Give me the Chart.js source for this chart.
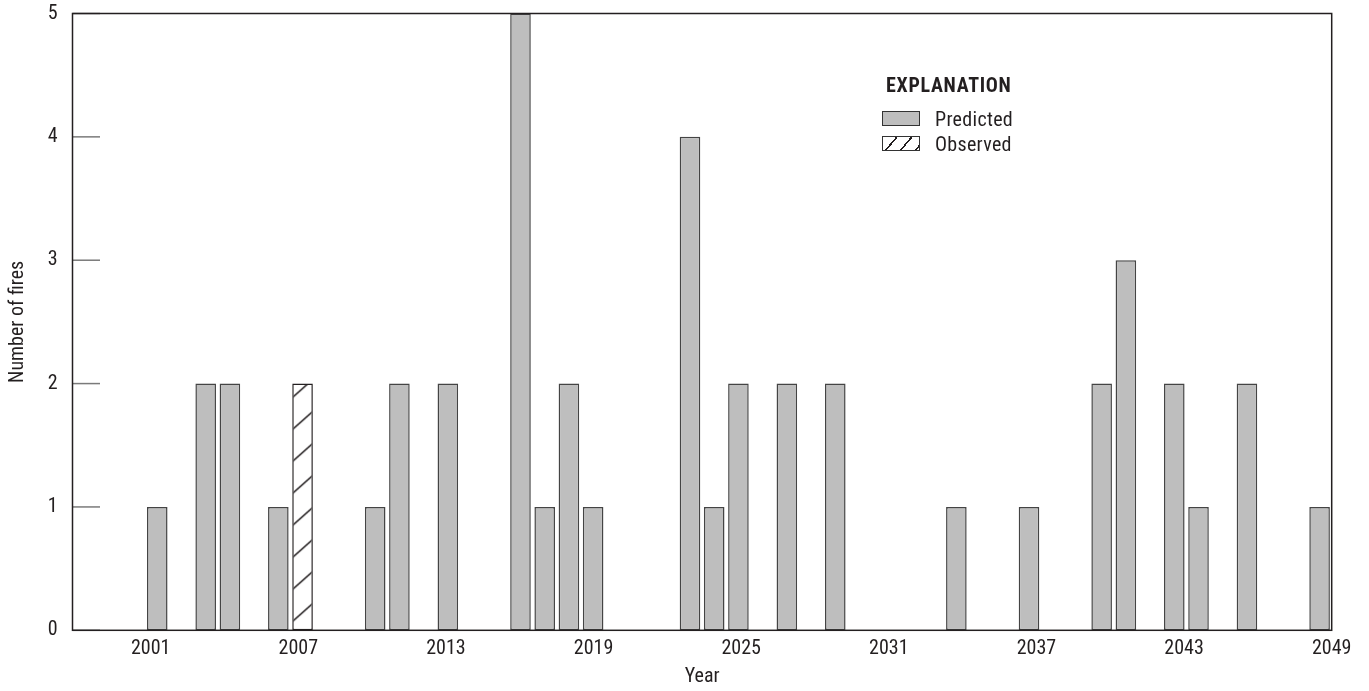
<!DOCTYPE html>
<html>
<head>
<meta charset="utf-8">
<script src="https://cdn.jsdelivr.net/npm/chart.js@4.4.1/dist/chart.umd.min.js"></script>
<style>
html,body{margin:0;padding:0;background:#fff;}
#wrap{position:relative;width:1369px;height:691px;overflow:hidden;}
canvas{display:block;}
.lg{position:absolute;font-size:20px;line-height:20px;color:#231f20;white-space:nowrap;letter-spacing:0.3px;}
.lg.b{font-weight:bold;letter-spacing:0.7px;}
.sw{position:absolute;width:36px;height:13px;border:1.5px solid #333;}
.sw.pred{background:#bebebe;}
.sw.obs{background:#fff repeating-linear-gradient(130deg, transparent 0 9.8px, #231f20 9.8px 11.4px);}
</style>
</head>
<body>
<div id="wrap">
<canvas id="c" width="1369" height="691"></canvas>
<div class="lg b" style="left:886px;top:75px;">EXPLANATION</div>
<div class="sw pred" style="left:882px;top:111px;"></div>
<div class="lg" style="left:935px;top:109px;">Predicted</div>
<div class="sw obs" style="left:882px;top:136px;"></div>
<div class="lg" style="left:935px;top:134px;">Observed</div>
</div>
<script>
// ---- data ----
const predictedYears = [2001,2003,2004,2006,2010,2011,2013,2016,2017,2018,2019,2023,2024,2025,2027,2029,2034,2037,2040,2041,2043,2044,2046,2049];
const predictedFires = [1,2,2,1,1,2,2,5,1,2,1,4,1,2,2,2,1,1,2,3,2,1,2,1];
const observedYears = [2007];
const observedFires = [2];
const tickYears = [2001,2007,2013,2019,2025,2031,2037,2043,2049];
const yTicks = [0,1,2,3,4,5];

// ---- pick the narrowest suitable installed font ----
const probe = document.createElement('canvas').getContext('2d');
const SAMPLE = '2001 Predicted EXPLANATION Number of fires';
function w(font){ probe.font = font; return probe.measureText(SAMPLE).width; }
function installed(fam){ return Math.abs(w('20px monospace') - w('20px ' + fam + ', monospace')) > 0.5 && Math.abs(w('20px serif') - w('20px ' + fam + ', serif')) > 0.5; }
let pick = { family: '"DejaVu Sans Condensed", "DejaVu Sans", sans-serif', stretch: 'normal' };
const cands = [
  ['"Liberation Sans Narrow"', 'normal'],
  ['"Arial Narrow"', 'normal'],
  ['"Roboto Condensed"', 'normal'],
  ['"Noto Sans"', 'condensed'],
  ['"Open Sans"', 'condensed'],
  ['Roboto', 'condensed']
];
for (const [fam, st] of cands) {
  if (!installed(fam)) continue;
  if (st === 'condensed') {
    const n = w('normal normal 20px ' + fam), c = w('normal condensed 20px ' + fam);
    if (!(c < n * 0.9)) continue;
  }
  pick = { family: fam + ', "DejaVu Sans Condensed", sans-serif', stretch: st };
  break;
}
document.querySelectorAll('.lg').forEach(el => { el.style.fontFamily = pick.family; el.style.fontStretch = pick.stretch; });

Chart.defaults.font.family = pick.family;
Chart.defaults.font.size = 20;
Chart.defaults.font.weight = pick.stretch === 'condensed' ? 'normal condensed' : 'normal';
Chart.defaults.color = '#231f20';

const canvas = document.getElementById('c');
const ctx = canvas.getContext('2d');

function makeHatch(){
  const c = document.createElement('canvas');
  c.width = 36; c.height = 32;
  const g = c.getContext('2d');
  g.fillStyle = '#fff'; g.fillRect(0,0,36,32);
  g.strokeStyle = '#231f20'; g.lineWidth = 1.5;
  g.beginPath();
  for (const k of [-1,0,1]) { g.moveTo(0, 32 + 32*k); g.lineTo(36, 32*k); }
  g.stroke();
  const p = ctx.createPattern(c, 'repeat');
  if (p.setTransform) p.setTransform(new DOMMatrix().translate(0, 17.4));
  return p;
}

const framePlugin = {
  id: 'frame',
  afterDatasetsDraw(chart){
    const {ctx, chartArea:a, scales:{y}} = chart;
    ctx.save();
    ctx.strokeStyle = '#7a7a7a'; ctx.lineWidth = 1.5;
    y.ticks.forEach(t => {
      const py = y.getPixelForValue(t.value);
      ctx.beginPath(); ctx.moveTo(a.left, py); ctx.lineTo(a.left + 27.5, py); ctx.stroke();
    });
    ctx.strokeStyle = '#231f20'; ctx.lineWidth = 1.5;
    ctx.strokeRect(a.left, a.top, a.right - a.left, a.bottom - a.top);
    ctx.restore();
  }
};

new Chart(ctx, {
  type: 'bar',
  data: {
    datasets: [
      {
        label: 'Predicted',
        data: predictedYears.map((x,i) => ({x, y: predictedFires[i]})),
        backgroundColor: '#bebebe',
        borderColor: '#444444',
        borderWidth: 1.5,
        borderSkipped: false,
        grouped: false,
        barPercentage: 0.85,
        categoryPercentage: 1,
        xAxisID: 'x', yAxisID: 'y'
      },
      {
        label: 'Observed',
        data: observedYears.map((x,i) => ({x, y: observedFires[i]})),
        backgroundColor: makeHatch(),
        borderColor: '#231f20',
        borderWidth: 1.5,
        borderSkipped: false,
        grouped: false,
        barPercentage: 0.85,
        categoryPercentage: 1,
        xAxisID: 'x', yAxisID: 'y'
      }
    ]
  },
  options: {
    responsive: false,
    animation: false,
    devicePixelRatio: 1,
    layout: { padding: { left: 0, right: 37.3, top: 13.5, bottom: 0 } },
    plugins: { legend: { display: false }, tooltip: { enabled: false } },
    scales: {
      x: { type: 'linear', display: false, offset: false, min: 1997.5, max: 2049.5, bounds: 'data' },
      xt: {
        type: 'linear', position: 'bottom', offset: false, min: 1997.82, max: 2049, bounds: 'data',
        afterBuildTicks: s => { s.ticks = tickYears.map(v => ({value: v})); },
        afterFit: s => { s.height = 691 - 630.3; },
        ticks: { padding: 7, autoSkip: false, maxRotation: 0, minRotation: 0, callback: v => String(v), color: '#231f20' },
        grid: { display: false, drawTicks: false, offset: false },
        border: { display: false },
        title: { display: true, text: 'Year', padding: { top: 0, bottom: 2 }, color: '#231f20' }
      },
      y: {
        type: 'linear', min: 0, max: 5, bounds: 'data',
        afterBuildTicks: s => { s.ticks = yTicks.map(v => ({value: v})); },
        afterFit: s => { s.width = 72.5; s.paddingTop = 0; s.paddingBottom = 0; },
        ticks: { padding: 15, callback: v => String(v), color: '#231f20' },
        grid: { display: false, drawTicks: false },
        border: { display: false },
        title: { display: true, text: 'Number of fires', padding: { top: 6, bottom: 0 }, color: '#231f20' }
      }
    }
  },
  plugins: [framePlugin]
});
</script>
</body>
</html>
